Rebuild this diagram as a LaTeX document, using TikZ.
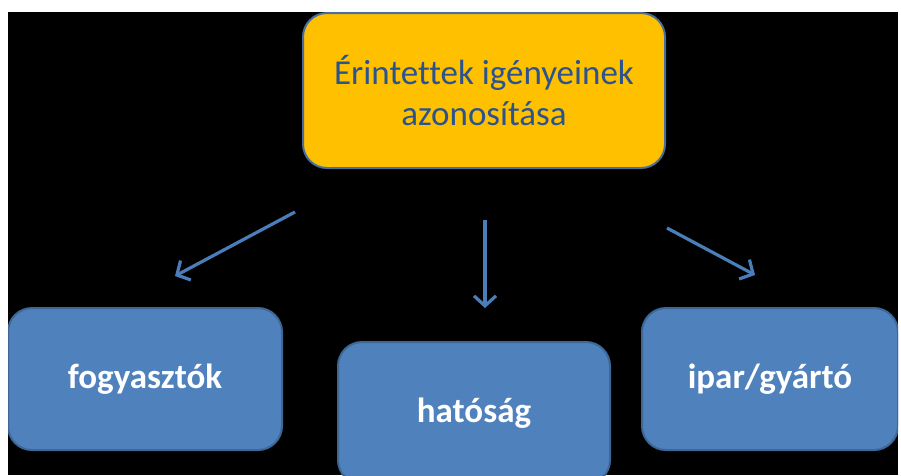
\documentclass[tikz,border=0pt]{standalone}
\usepackage{fontspec}
\setmainfont{Carlito}[Ligatures={NoCommon}]
\usepackage{xcolor}
\definecolor{goalfill}{HTML}{FFC000}
\definecolor{goaltext}{HTML}{2A5390}
\definecolor{goaldraw}{HTML}{4A6E9C}
\definecolor{partyfill}{HTML}{4F81BD}
\definecolor{partydraw}{HTML}{3D6796}
\definecolor{arrowcol}{HTML}{4A7EBB}
\usetikzlibrary{arrows.meta,positioning,calc}
\tikzset{
  blk/.style     = {draw,line width=2pt,rounded corners=24pt,align=center,
                     inner sep=0pt},
  goal/.style    = {blk,draw=goaldraw,fill=goalfill,text=goaltext,
                     font=\fontsize{35}{41}\selectfont,
                     minimum width=362pt,minimum height=155pt},
  party/.style   = {blk,draw=partydraw,fill=partyfill,text=white,
                     font=\fontsize{35}{40}\selectfont\bfseries,
                     minimum height=142pt},
  flowarr/.style = {-{Straight Barb[length=10pt,width=22pt]},line width=3.2pt,
                     draw=arrowcol},
}
\begin{document}
\begin{tikzpicture}[x=1pt,y=-1pt]
  \useasboundingbox (0,0) rectangle (901,475);
  \fill[white] (0,0) rectangle (901,475);
  \fill[black] (8,12) rectangle (898,475);
  \clip (8,12) rectangle (898,475);

  % goal and the three parties
  \node[goal] (goal) at (484,90.5) {Érintettek igényeinek\\ azonosítása};
  \node[party,minimum width=274pt] (cons) at (145,379) {fogyasztók};
  \node[party,minimum width=272pt] (auth) at (474,413) {hatóság};
  \node[party,minimum width=256pt] (ind)  at (770,379) {ipar/gyártó};

  % arrow ends
  \coordinate (c1) at (295,212);
  \coordinate (c2) at (175,276);
  \coordinate (a1) at (485,220);
  \coordinate (a2) at (485,308);
  \coordinate (i1) at (667,228);
  \coordinate (i2) at (755,275);

  \draw[flowarr] (c1) -- (c2);
  \draw[flowarr] (a1) -- (a2);
  \draw[flowarr] (i1) -- (i2);
\end{tikzpicture}
\end{document}
